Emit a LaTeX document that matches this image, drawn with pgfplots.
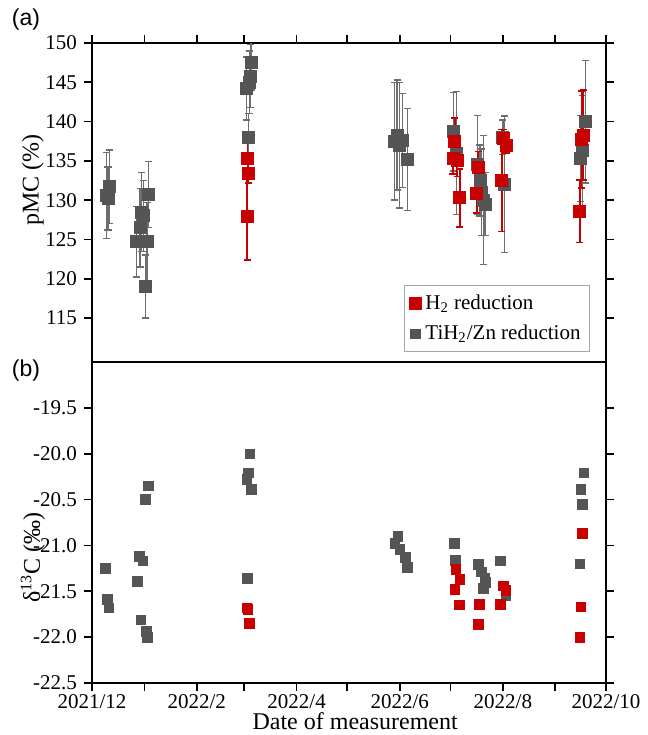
\documentclass[border=0pt]{standalone}
\usepackage{fontspec}
\setmainfont{Liberation Serif}
\newfontfamily\serifnum{Liberation Serif}
\newfontfamily\sansf{Liberation Sans}
\usepackage{pgfplots}
\pgfplotsset{compat=1.18}

\definecolor{redH}{RGB}{200,0,0}
\definecolor{grayT}{RGB}{85,85,85}
\definecolor{grayE}{RGB}{110,110,110}

\newcommand{\tl}[1]{\mbox{\serifnum\fontsize{10.5}{12}\selectfont #1}}

% x = days since 2021-12-01
\pgfplotsset{
  panel/.style={
    scale only axis, width=257pt,
    xmin=0, xmax=304,
    xtick={0,62,121,182,243,304},
    minor xtick={31,90,151,212,274},
    tick align=outside,
    major tick length=4pt, minor tick length=4pt,
    ytick pos=both,
    axis line style={line width=0.9pt},
    every tick/.style={black, line width=0.9pt},
    label style={font=\rmfamily\fontsize{12}{14}\selectfont},
    /pgf/number format/assume math mode=true,
    yticklabel={\tl{\pgfmathprintnumber{\tick}}},
  },
  graypts/.style={only marks, mark=square*, color=grayT,
    mark options={solid, fill=grayT, draw=grayT}, mark size=#1},
  redpts/.style={only marks, mark=square*, color=redH,
    mark options={solid, fill=redH, draw=redH}, mark size=#1},
  grayerr/.style={error bars/.cd, y dir=both, y explicit,
    error bar style={line width=0.7pt, color=grayE},
    error mark options={rotate=90, line width=0.7pt, mark size=1.8pt, color=grayE}},
  rederr/.style={error bars/.cd, y dir=both, y explicit,
    error bar style={line width=0.9pt, color=redH},
    error mark options={rotate=90, line width=0.9pt, mark size=1.8pt, color=redH}},
}

\pgfplotstableread{
x y ey
8.5 130.6 5.5
9.5 130.2 4.0
10.5 131.7 4.7
26.3 124.7 4.5
28.5 126.5 5.0
29.4 128.5 5.0
30.5 128.0 4.5
31.5 119.0 4.0
32.5 124.7 5.0
33.5 130.7 4.2
91.5 144.2 4.0
92.5 138.0 3.0
93.0 145.0 4.0
93.8 145.8 4.0
94.0 147.5 3.5
179.0 137.5 7.5
180.5 138.3 7.0
182.0 137.0 8.0
183.5 137.6 6.0
186.5 135.2 6.5
213.8 138.7 5.0
215.5 136.0 7.8
228.0 134.5 6.3
229.5 132.5 4.5
230.5 131.0 5.5
231.5 130.0 8.2
232.5 129.5 4.0
244.0 132.0 8.7
243.0 138.0 2.2
289.0 135.3 5.5
290.0 136.3 7.0
291.8 140.0 7.8
}\pmcTi

\pgfplotstableread{
x y ey
91.8 127.9 5.5
92.0 135.3 2.5
92.6 133.4 1.2
214.5 137.5 3.0
213.5 135.3 2.0
216.0 135.0 2.0
217.5 130.3 3.7
228.5 134.2 2.0
227.5 130.9 2.5
243.3 137.8 1.2
245.0 137.0 1.0
242.3 132.5 6.5
288.5 128.6 4.0
289.5 137.7 6.2
290.5 138.3 5.7
}\pmcH

\pgfplotstableread{
x y
8.0 -21.25
9.0 -21.59
10.0 -21.68
27.0 -21.39
28.0 -21.12
29.0 -21.81
30.0 -21.17
31.5 -20.50
32.0 -21.94
32.6 -22.00
33.5 -20.35
91.5 -20.28
92.0 -21.36
92.5 -20.21
93.5 -20.00
94.2 -20.39
179.2 -20.98
181.0 -20.90
182.1 -21.04
185.5 -21.13
186.7 -21.24
214.5 -20.98
215.0 -21.16
228.4 -21.21
230.4 -21.29
231.4 -21.47
232.3 -21.36
233.0 -21.40
241.6 -21.17
244.7 -21.55
288.6 -21.20
289.2 -20.39
290.2 -20.55
291.0 -20.21
}\dTi

\pgfplotstableread{
x y
91.5 -21.68
92.3 -21.70
93.0 -21.85
214.7 -21.48
215.2 -21.26
217.2 -21.65
217.6 -21.37
228.4 -21.86
229.0 -21.64
241.6 -21.64
243.2 -21.44
244.7 -21.49
288.6 -22.00
289.2 -21.67
290.2 -20.87
}\dH

\begin{document}
\begin{tikzpicture}
\path[use as bounding box] (-46pt,-26pt) rectangle (278pt,341.5pt);

% (a) pMC
\begin{axis}[panel,
  at={(0,160.5pt)}, anchor=south west, height=159.5pt,
  ymin=109.4, ymax=150,
  ytick={115,120,...,150},
  xtick pos=right, xticklabels={},
  ylabel={pMC (\%)},
  ylabel style={at={(axis description cs:-0.115,0.57)}, anchor=center},
  legend style={at={(0.969,0.031)}, anchor=south east,
    draw=gray!70, line width=0.5pt,
    font=\rmfamily\fontsize{10.5}{12}\selectfont,
    inner sep=2.5pt, row sep=2.5pt},
  legend cell align=left,
]
\addlegendimage{redpts=3pt}
\addlegendentry{H\textsubscript{2} reduction}
\addlegendimage{graypts=2.4pt}
\addlegendentry{TiH\textsubscript{2}/Zn reduction}
\addplot[graypts=3pt, grayerr] table[x=x, y=y, y error=ey] {\pmcTi};
\addplot[redpts=3pt, rederr] table[x=x, y=y, y error=ey] {\pmcH};
\end{axis}

% (b) delta 13C
\begin{axis}[panel,
  at={(0,0)}, anchor=south west, height=160.5pt,
  ymin=-22.5, ymax=-19,
  ytick={-22.5,-22,...,-19.5},
  yticklabel style={/pgf/number format/.cd, fixed, fixed zerofill, precision=1},
  xtick pos=left,
  xticklabel shift=-2pt,
  xticklabels={\tl{2021/12},\tl{2022/2},\tl{2022/4},\tl{2022/6},\tl{2022/8},\tl{2022/10}},
  xlabel={Date of measurement},
  xlabel style={at={(axis description cs:0.512,0)}, yshift=-19pt, anchor=center},
  ylabel={δ\textsuperscript{13}C (‰)},
  ylabel style={at={(axis description cs:-0.115,0.39)}, anchor=center},
]
\addplot[graypts=2.4pt] table[x=x, y=y] {\dTi};
\addplot[redpts=2.4pt] table[x=x, y=y] {\dH};
\end{axis}

\node[font=\sansf\fontsize{11.5}{13}\selectfont] at (-33pt,331.5pt) {(a)};
\node[font=\sansf\fontsize{11.5}{13}\selectfont] at (-33pt,156pt) {(b)};
\end{tikzpicture}
\end{document}
